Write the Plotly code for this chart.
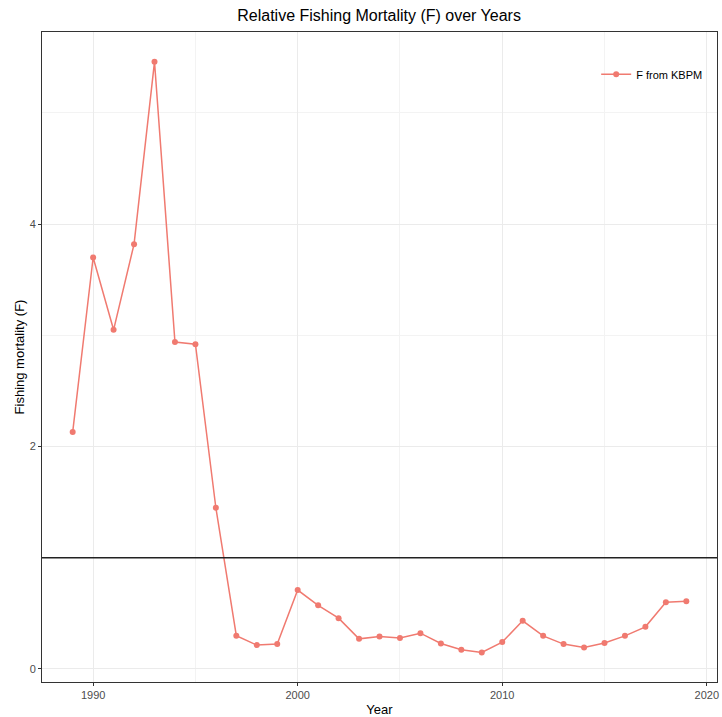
import plotly.graph_objects as go

years = list(range(1989, 2020))
f_values = [2.13, 3.70, 3.05, 3.82, 5.46, 2.94, 2.92, 1.45, 0.30, 0.215, 0.224,
            0.71, 0.573, 0.457, 0.271, 0.292, 0.278, 0.322, 0.229, 0.173, 0.149,
            0.242, 0.433, 0.298, 0.224, 0.194, 0.233, 0.298, 0.379, 0.600, 0.609]
ref_level = 1
series_name = "F from KBPM"

fig = go.Figure()
fig.add_trace(go.Scatter(
    x=years, y=f_values, mode="lines+markers", name=series_name,
    line=dict(color="#F07A70", width=1.5),
    marker=dict(color="#F07A70", size=6),
))
fig.add_shape(type="line", xref="paper", x0=0, x1=1, yref="y", y0=ref_level, y1=ref_level,
              line=dict(color="#222222", width=1.6), layer="above")

font_family = "Liberation Sans, Arial, sans-serif"
fig.update_layout(
    width=722, height=717,
    margin=dict(l=42, r=3, t=32, b=34),
    paper_bgcolor="white", plot_bgcolor="white",
    font=dict(family=font_family, color="black"),
    title=dict(text="Relative Fishing Mortality (F) over Years", x=0.525, xanchor="center",
               y=0.979, yanchor="middle", font=dict(size=16, color="black")),
    showlegend=True,
    legend=dict(x=0.821, y=0.935, xanchor="left", yanchor="middle",
                bgcolor="rgba(0,0,0,0)", font=dict(size=11, color="black")),
)
fig.update_xaxes(
    range=[1987.5, 2020.5], tick0=1990, dtick=10, showgrid=True,
    gridcolor="#EBEBEB", gridwidth=1,
    minor=dict(tick0=1995, dtick=10, showgrid=True, gridcolor="#F3F3F3", gridwidth=0.6),
    ticks="outside", ticklen=3, tickcolor="#333333", tickwidth=1,
    tickfont=dict(size=11, color="#4D4D4D"),
    showline=True, linecolor="#333333", linewidth=1, mirror=True, zeroline=False,
    title=dict(text="Year", font=dict(size=13, color="black"), standoff=4),
)
fig.update_yaxes(
    range=[-0.117, 5.728], tick0=0, dtick=2, showgrid=True,
    gridcolor="#EBEBEB", gridwidth=1,
    minor=dict(tick0=1, dtick=2, showgrid=True, gridcolor="#F3F3F3", gridwidth=0.6),
    ticks="outside", ticklen=3, tickcolor="#333333", tickwidth=1,
    tickfont=dict(size=11, color="#4D4D4D"),
    showline=True, linecolor="#333333", linewidth=1, mirror=True, zeroline=False,
    title=dict(text="Fishing mortality (F)", font=dict(size=13, color="black"), standoff=2),
)
fig.write_html("out.html", config={"displayModeBar": False},
               post_script="document.body.style.margin='0';document.body.style.overflow='hidden';")
